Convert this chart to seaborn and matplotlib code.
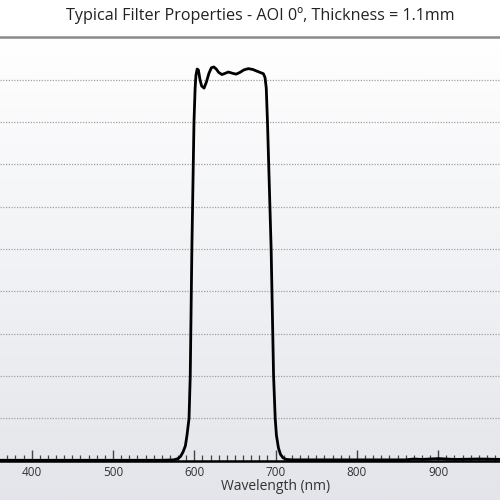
import numpy as np
import pandas as pd
import matplotlib
matplotlib.use("Agg")
import matplotlib.pyplot as plt
import seaborn as sns
from matplotlib.colors import LinearSegmentedColormap
from matplotlib.ticker import MultipleLocator

# ---- data ----
wavelength = [360, 400, 500, 560, 575, 580, 583, 586, 589, 591, 593.5, 595, 597, 599.6,
              601, 602, 603.5, 605, 607, 609, 612, 615, 618, 621, 624, 627, 630, 634,
              638, 642, 647, 651.5, 656, 661, 666.5, 672, 677, 681, 685, 687, 688.5,
              690, 694.5, 697.5, 699.5, 701, 703.5, 706, 709, 713, 720, 800, 860,
              870, 880, 900, 920, 950, 980]
transmission = [0.1, 0.1, 0.1, 0.1, 0.2, 0.5, 1.0, 2.0, 3.5, 6, 10, 20, 50, 80,
                88, 91, 92.5, 92.3, 90, 88.5, 88.0, 89.5, 91.5, 92.8, 93.0, 92.5, 91.7, 91.2,
                91.5, 91.8, 91.5, 91.3, 91.7, 92.3, 92.6, 92.4, 92.0, 91.7, 91.4, 90.5, 88,
                80, 50, 20, 10, 6, 3, 1.5, 0.7, 0.3, 0.2, 0.2, 0.2,
                0.4, 0.3, 0.5, 0.3, 0.4, 0.3]
major_ticks = [400, 500, 600, 700, 800, 900]
title = "Typical Filter Properties - AOI 0º, Thickness = 1.1mm"
xlabel = "Wavelength (nm)"

df = pd.DataFrame({"wl": wavelength, "T": transmission})

sns.set_theme(style="white")
plt.rcParams['font.family'] = ['Open Sans', 'DejaVu Sans']

fig = plt.figure(figsize=(5, 5), dpi=100)
fig.patch.set_facecolor("white")

# background gradient below the top border
bg = fig.add_axes([0, 0, 1, 463 / 500])
cmap = LinearSegmentedColormap.from_list("g", ["#ffffff", "#f1f2f5", "#e3e5ea"])
grad = np.linspace(0, 1, 256).reshape(-1, 1)
bg.imshow(grad, aspect="auto", cmap=cmap, extent=[0, 1, 0, 1], origin="upper")
bg.set_axis_off()

ax = fig.add_axes([0, (500 - 460.7) / 500, 1, 423.4 / 500])
ax.patch.set_alpha(0)

sns.lineplot(data=df, x="wl", y="T", ax=ax, color="black", linewidth=2.0, sort=False)

ax.set_xlim(361, 976)
ax.set_ylim(0, 100)
ax.set_yticks(np.arange(10, 100, 10))
ax.yaxis.grid(True, linestyle=(0, (1, 1.2)), color="#a0a0a0", linewidth=0.9)
ax.xaxis.grid(False)
ax.tick_params(axis="y", left=False, labelleft=False)

ax.set_xticks(major_ticks)
ax.xaxis.set_minor_locator(MultipleLocator(10))
ax.tick_params(axis="x", which="major", direction="in", length=8, width=1.0,
               color="#444444", labelsize=8.5, labelcolor="#333333", pad=4, bottom=True)
ax.tick_params(axis="x", which="minor", direction="in", length=4, width=0.9,
               color="#444444", bottom=True)

for s in ["left", "right"]:
    ax.spines[s].set_visible(False)
ax.spines["bottom"].set_color("black")
ax.spines["bottom"].set_linewidth(1.8)
ax.spines["top"].set_color("#8a8a8a")
ax.spines["top"].set_linewidth(1.8)

ax.set_ylabel("")
ax.set_xlabel(xlabel, fontsize=10, color="#333333")
ax.xaxis.set_label_coords(276 / 500, -(486 - 460.7) / 423.4)
ax.xaxis.label.set_va("center")

fig.text(260 / 500, 1 - 16 / 500, title, ha="center", va="center",
         fontsize=11.6, color="#222222")

fig.savefig("out.png", dpi=100)
